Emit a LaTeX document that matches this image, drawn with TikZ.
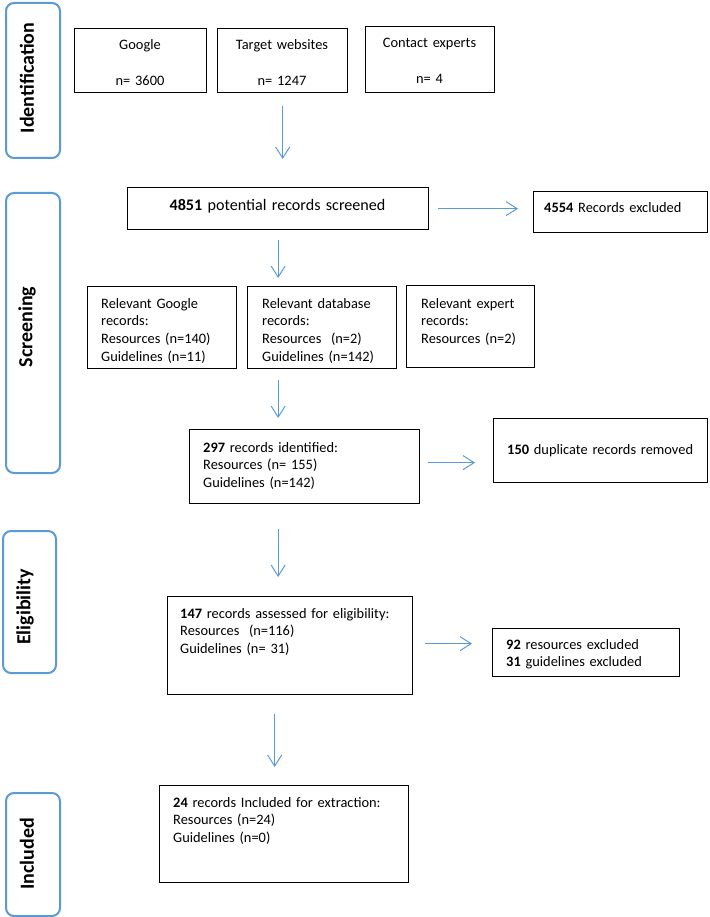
\documentclass[tikz,border=0pt]{standalone}
\usepackage{fontspec}
\setmainfont{Carlito}
\usetikzlibrary{arrows.meta,calc}
\definecolor{phaseblue}{RGB}{91,155,213}
\begin{document}
\begin{tikzpicture}[x=1pt,y=-1pt,
  box/.style={draw=black, line width=1.3pt, inner sep=0pt, anchor=north west},
  phase/.style={draw=phaseblue, line width=2pt, rounded corners=8pt, inner sep=0pt, anchor=north west},
  phasetxt/.style={font=\fontsize{20}{24}\selectfont\bfseries, rotate=90, inner sep=0pt},
  txt/.style={font=\fontsize{14.4}{17.7}\selectfont, anchor=base west, inner sep=0pt, align=left, text width=#1},
  ctxt/.style={font=\fontsize{14.4}{17.7}\selectfont, anchor=base, inner sep=0pt, align=center, text width=#1},
  arr/.style={draw=phaseblue, line width=1pt, -{Straight Barb[length=11pt,width=14pt]}}]
\useasboundingbox (0,0) rectangle (709,917);

% phase boxes
\node[phase, minimum width=54pt, minimum height=155pt] (pid) at (5,2) {};
\node[phase, minimum width=54pt, minimum height=280pt] (psc) at (5,192) {};
\node[phase, minimum width=53pt, minimum height=142pt] (pel) at (2,530) {};
\node[phase, minimum width=54pt, minimum height=123pt] (pin) at (5,792) {};
\node[phasetxt] (tid) at (27,78) {Identification};
\node[phasetxt] (tsc) at (27,327) {Screening};
\node[phasetxt] (tel) at (25,607) {Eligibility};
\node[phasetxt] (tin) at (27,854) {Included};

% boxes
\node[box, minimum width=132pt, minimum height=64pt] (google) at (74,28) {};
\node[box, minimum width=130pt, minimum height=64pt] (target) at (217,28) {};
\node[box, minimum width=129pt, minimum height=66pt] (contact) at (365,26) {};
\node[box, minimum width=301pt, minimum height=42pt] (s4851) at (127,187) {};
\node[box, minimum width=174pt, minimum height=41pt] (ex4554) at (533,191) {};
\node[box, minimum width=149pt, minimum height=82pt] (rg) at (87,286) {};
\node[box, minimum width=149pt, minimum height=82pt] (rd) at (247,286) {};
\node[box, minimum width=128pt, minimum height=82pt] (re) at (406,285) {};
\node[box, minimum width=230pt, minimum height=74pt] (r297) at (189,429) {};
\node[box, minimum width=214pt, minimum height=64pt] (ex150) at (493,418) {};
\node[box, minimum width=245pt, minimum height=98pt] (r147) at (167,596) {};
\node[box, minimum width=187pt, minimum height=48pt] (ex92) at (492,628) {};
\node[box, minimum width=249pt, minimum height=97pt] (r24) at (159,785) {};

% texts
\node[ctxt=130pt] (tgoogle) at (140,50) {Google\\[17.5pt]n= 3600};
\node[ctxt=128pt] (ttarget) at (282,50) {Target websites\\[17.5pt]n= 1247};
\node[ctxt=127pt] (tcontact) at (429.5,48) {Contact experts\\[17.5pt]n= 4};
\node[ctxt=290pt, font=\fontsize{16.1}{19}\selectfont] (t4851) at (277.5,211) {\textbf{4851} potential records screened};
\node[txt=160pt] (t4554) at (544,213) {\textbf{4554} Records excluded};
\node[txt=130pt] (trg) at (101,308) {Relevant Google\\records:\\Resources (n=140)\\Guidelines (n=11)};
\node[txt=130pt] (trd) at (262,308) {Relevant database\\records:\\Resources~ (n=2)\\Guidelines (n=142)};
\node[txt=110pt] (tre) at (421,308) {Relevant expert\\records:\\Resources (n=2)};
\node[txt=210pt] (t297) at (203,452) {\textbf{297} records identified:\\Resources (n= 155)\\Guidelines (n=142)};
\node[txt=200pt] (t150) at (507,454) {\textbf{150} duplicate records removed};
\node[txt=230pt] (t147) at (180,618) {\textbf{147} records assessed for eligibility:\\Resources~ (n=116)\\Guidelines (n= 31)};
\node[txt=170pt] (t92) at (506,649) {\textbf{92} resources excluded\\\textbf{31} guidelines excluded};
\node[txt=230pt] (t24) at (173,807) {\textbf{24} records Included for extraction:\\Resources (n=24)\\Guidelines (n=0)};

% arrows
\draw[arr, shorten <=13pt, shorten >=28pt] (target.south) -- (target.south |- s4851.north);
\draw[arr, shorten <=10pt, shorten >=8pt] (s4851.south) -- (s4851.south |- rd.north);
\draw[arr, shorten <=11pt, shorten >=11pt] (rd.south -| s4851.south) -- (s4851.south |- r297.north);
\draw[arr, shorten <=25pt, shorten >=19pt] (r297.south -| s4851.south) -- (s4851.south |- r147.north);
\draw[arr, shorten <=19pt, shorten >=18pt] ([xshift=-15.5pt]r147.south) -- ([xshift=-15.5pt]r147.south |- r24.north);
\draw[arr, shorten <=9pt, shorten >=15pt] (s4851.east) -- (s4851.east -| ex4554.west);
\draw[arr, shorten <=8pt, shorten >=18pt] ([yshift=4pt]r297.east) -- ([yshift=4pt]r297.east -| ex150.west);
\draw[arr, shorten <=12pt, shorten >=20pt] ([yshift=2pt]r147.east) -- ([yshift=2pt]r147.east -| ex92.west);
\end{tikzpicture}
\end{document}
